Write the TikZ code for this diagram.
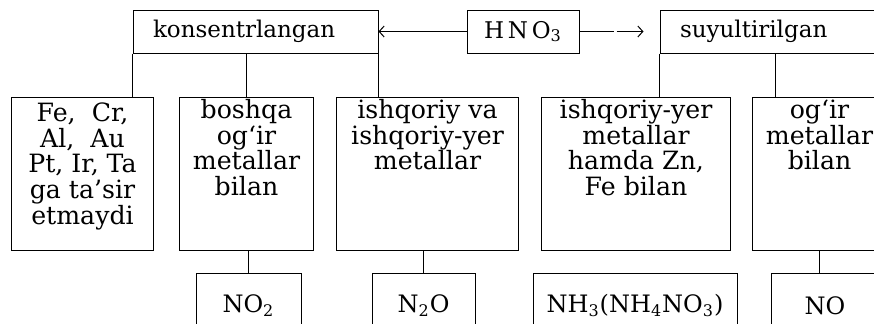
\documentclass[tikz,border=0pt]{standalone}
\usepackage{fontspec}
\setmainfont{DejaVu Serif}
\usetikzlibrary{arrows.meta, positioning}

\begin{document}
\begin{tikzpicture}[
  x=0.5pt, y=-0.5pt,
  line width=0.5pt,
  font=\fontsize{11.5}{12.85}\selectfont,
  head/.style={draw, minimum height=21.5pt, inner sep=0pt},
  cell/.style={draw, inner sep=0pt, anchor=north west, font=\fontsize{12.6}{12.85}\selectfont,
    execute at begin node={\begin{minipage}[t][76.5pt][t]{#1}\centering\rule{0pt}{10.5pt}},
    execute at end node={\end{minipage}}},
  gas/.style={draw, minimum height=32pt, anchor=north, inner sep=0pt, font=\fontsize{12}{12.85}\selectfont},
  arr/.style={-{Straight Barb[length=2.5pt, width=5.5pt]}},
]
\useasboundingbox (0,0) rectangle (874,323);
\clip (0,0) rectangle (874,323);

% top row
\node[head, minimum width=122.5pt, text width=102.5pt, align=left] (konz) at (255.5,31.5) {konsentrlangan};
\node[head, minimum width=56pt, right=44pt of konz] (hno) {H\,N\,O\textsubscript{3}};
\node[head, minimum width=115pt, text width=95pt, align=left, right=40pt of hno] (suyul) {suyultirilgan};

% metals
\node[cell=71pt] (b1) at (11,97) {\rule{0pt}{12pt}Fe,\ \ Cr,\\Al,\ \ Au\\Pt, Ir, Ta\\ga ta’sir\\etmaydi};
\node[cell=67pt, right=12.5pt of b1] (b2) {boshqa\\og‘ir\\metallar\\bilan};
\node[cell=91pt, right=11pt of b2] (b3) {ishqoriy va\\ishqoriy-yer\\metallar};
\node[cell=94.5pt, right=11pt of b3] (b4) {ishqoriy-yer\\metallar\\hamda Zn,\\Fe bilan};
\node[cell=67pt, right=10.5pt of b4] (b5) {og‘ir\\metallar\\bilan};

% products
\node[gas, minimum width=52.5pt] (n1) at (248.5,273) {NO\textsubscript{2}};
\node[gas, minimum width=51.5pt] (n2) at (423.5,273) {N\textsubscript{2}O};
\node[gas, minimum width=102pt] (n3) at (635,273) {NH\textsubscript{3}(NH\textsubscript{4}NO\textsubscript{3})};
\node[gas, minimum width=54pt] (n4) at (825,273) {NO};

% connectors
\draw[arr] (hno) -- (konz);
\draw[arr, dash pattern=on 17pt off 1.5pt] (hno) -- ([xshift=-8pt]suyul.west);
\draw (konz.south west) -- (konz.south west |- b1.north);
\draw (b2.north |- konz.south) -- (b2.north);
\draw (konz.south east) -- (konz.south east |- b3.north);
\draw (suyul.south west) -- (suyul.south west |- b4.north);
\draw (suyul.south) -- (suyul.south |- b5.north);
\draw (n1.north |- b2.south) -- (n1.north);
\draw (n2.north |- b3.south) -- (n2.north);
\draw (b5.south) -- (b5.south |- n4.north);
\end{tikzpicture}
\end{document}
